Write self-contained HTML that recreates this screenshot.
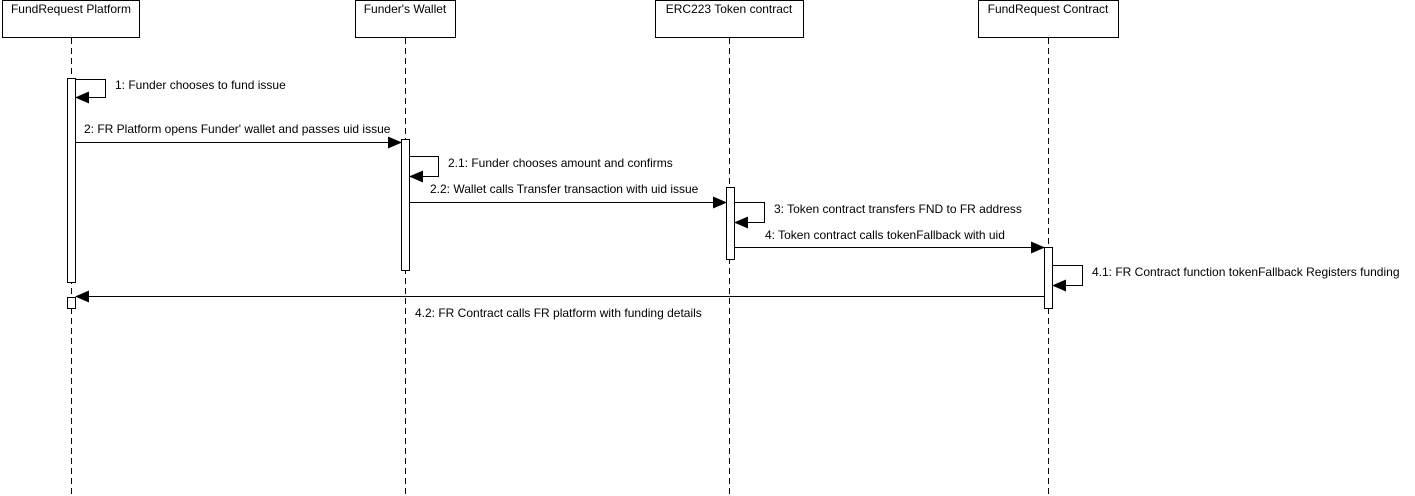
<!DOCTYPE html>
<html><head><meta charset="utf-8"><style>
html,body{margin:0;padding:0;background:#fff;}
svg{display:block;}
text{font-family:"Liberation Sans",sans-serif;font-size:12px;fill:#000;}
</style></head><body>
<svg width="1415" height="496" viewBox="0 0 1415 496" xmlns="http://www.w3.org/2000/svg">
<defs>
<marker id="a" markerWidth="14" markerHeight="12" refX="13" refY="6" orient="auto" markerUnits="userSpaceOnUse">
<path d="M0,0 L14,6 L0,12 Z" fill="#000"/>
</marker>
</defs>
<g stroke="#000" stroke-width="1" fill="#fff">
<rect x="2.5" y="0.5" width="137" height="37"/>
<rect x="355.5" y="0.5" width="100" height="37"/>
<rect x="655.5" y="0.5" width="148" height="37"/>
<rect x="978.5" y="0.5" width="140" height="37"/>
</g>
<text x="71" y="13" text-anchor="middle">FundRequest Platform</text>
<text x="405" y="13" text-anchor="middle">Funder's Wallet</text>
<text x="729" y="13" text-anchor="middle">ERC223 Token contract</text>
<text x="1048" y="13" text-anchor="middle">FundRequest Contract</text>
<g stroke="#000" stroke-width="1" stroke-dasharray="6,4">
<line x1="71.5" y1="38" x2="71.5" y2="496"/>
<line x1="405.5" y1="38" x2="405.5" y2="496"/>
<line x1="729.5" y1="38" x2="729.5" y2="496"/>
<line x1="1048.5" y1="38" x2="1048.5" y2="496"/>
</g>
<g stroke="#000" stroke-width="1" fill="#fff">
<rect x="67.5" y="78.5" width="8" height="204"/>
<rect x="67.5" y="297.5" width="8" height="11"/>
<rect x="401.5" y="139.5" width="8" height="131"/>
<rect x="726.5" y="187.5" width="8" height="72"/>
<rect x="1044.5" y="247.5" width="8" height="61"/>
</g>
<g stroke="#000" stroke-width="1" fill="none">
<polyline points="76,79.5 105.5,79.5 105.5,97.5 76,97.5" marker-end="url(#a)"/>
<line x1="76" y1="142.5" x2="401" y2="142.5" marker-end="url(#a)"/>
<polyline points="410,156.5 438.5,156.5 438.5,176.5 410,176.5" marker-end="url(#a)"/>
<line x1="410" y1="202.5" x2="726" y2="202.5" marker-end="url(#a)"/>
<polyline points="735,202.5 764.5,202.5 764.5,222.5 735,222.5" marker-end="url(#a)"/>
<line x1="735" y1="247.5" x2="1044" y2="247.5" marker-end="url(#a)"/>
<polyline points="1053,265.5 1082.5,265.5 1082.5,285.5 1053,285.5" marker-end="url(#a)"/>
<line x1="1044" y1="296.5" x2="76" y2="296.5" marker-end="url(#a)"/>
</g>
<text x="115" y="89">1: Funder chooses to fund issue</text>
<text x="84" y="133">2: FR Platform opens Funder' wallet and passes uid issue</text>
<text x="448" y="167">2.1: Funder chooses amount and confirms</text>
<text x="430" y="193">2.2: Wallet calls Transfer transaction with uid issue</text>
<text x="774" y="213">3: Token contract transfers FND to FR address</text>
<text x="765" y="239">4: Token contract calls tokenFallback with uid</text>
<text x="1092" y="276">4.1: FR Contract function tokenFallback Registers funding</text>
<text x="415" y="317">4.2: FR Contract calls FR platform with funding details</text>
</svg>
</body></html>
